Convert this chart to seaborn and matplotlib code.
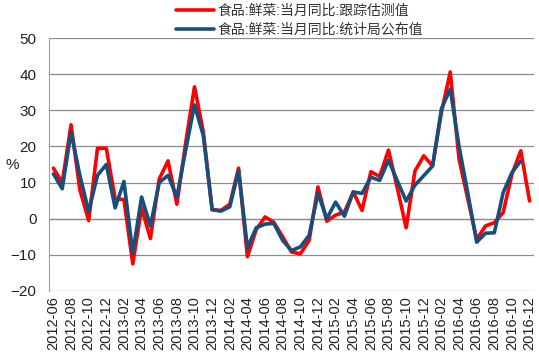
import numpy as np
import pandas as pd
import matplotlib
matplotlib.use('Agg')
import matplotlib.pyplot as plt
import seaborn as sns
from matplotlib.lines import Line2D

# 月度数据 2012-06 ~ 2016-12
months = pd.period_range('2012-06', '2016-12', freq='M').strftime('%Y-%m').tolist()

est = [14, 10, 26, 8, -0.5, 19.5, 19.5, 5.5, 5.3, -12.5, 3, -5.5, 11, 16,
       4, 21, 36.5, 24, 2.5, 2.3, 4, 14, -10.5, -3, 0.5, -1, -5, -9.2, -9.7, -6,
       8.8, -0.7, 1, 1.8, 7.4, 2.3, 13, 11.7, 19, 8.5, -2.5, 13.2, 17.4, 14.6,
       29.4, 40.6, 16.5, 5.4, -5.7, -2, -1.1, 1.7, 12.3, 18.8, 4.9]
official = [12.4, 8.3, 24, 12, 2, 12, 15, 3, 10.3, -9.5, 6, -2, 10, 12,
            6, 19, 31.5, 23, 2.5, 2.1, 3.3, 13.3, -8, -2.5, -1.5, -1.3, -6, -8.8, -7.8, -4.6,
            7, 0, 4.6, 0.7, 7.4, 7, 11.5, 10.6, 16.2, 10.5, 4.9, 9.3, 11.9, 14.6,
            30.4, 35.9, 20, 7, -6.5, -4, -3.9, 7.2, 12.8, 16, np.nan]

label_est = '食品:鲜菜:当月同比:跟踪估测值'
label_off = '食品:鲜菜:当月同比:统计局公布值'

df = pd.DataFrame({'month': months, label_est: est, label_off: official})
df['idx'] = np.arange(len(df))
long = df.melt(id_vars=['month', 'idx'], var_name='series', value_name='value')

sns.set_style('white')
plt.rcParams['font.family'] = ['Liberation Sans', 'Noto Sans CJK SC', 'DejaVu Sans']

red = '#FF0000'
blue = '#174F7C'

fig = plt.figure(figsize=(5.39, 3.57), dpi=100)
ax = fig.add_axes([49 / 539, 1 - 291 / 357, (534 - 49) / 539, (291 - 38) / 357])

sns.lineplot(data=long, x='idx', y='value', hue='series',
             palette={label_est: red, label_off: blue},
             linewidth=2.6, ax=ax, legend=False)

ax.set_xlim(-0.5, len(months) - 0.5)
ax.set_ylim(-20, 50)
ax.set_yticks(range(-20, 51, 10))
ax.yaxis.grid(True, color='#8c8c8c', linewidth=0.9)
ax.set_axisbelow(True)
ax.set_xticks(df['idx'][::2])
ax.set_xticklabels(df['month'][::2], rotation=90, fontsize=10.5, color='#222222')
ax.tick_params(axis='y', labelsize=11, colors='#222222', length=0, pad=9)
ax.tick_params(axis='x', length=0, pad=4)
ax.set_xlabel('')
ax.set_ylabel('')
for s in ['top', 'right', 'bottom']:
    ax.spines[s].set_visible(False)
ax.spines['left'].set_color('#a0a0a0')
ax.axhline(0, color='#8c8c8c', linewidth=0.9, zorder=1)

fig.text(6 / 539, 1 - 165 / 357, '%', fontsize=11, color='#222222', va='center')

# 图例
handles = [Line2D([], [], color=red, linewidth=2.6),
           Line2D([], [], color=blue, linewidth=2.6)]
fig.legend(handles, [label_est, label_off], loc='upper left',
           bbox_to_anchor=(163 / 539, 1.025), frameon=False, fontsize=10,
           handlelength=2.8, handletextpad=0.2, labelspacing=0.35,
           labelcolor='#333333')

fig.savefig('out.png', dpi=100)
